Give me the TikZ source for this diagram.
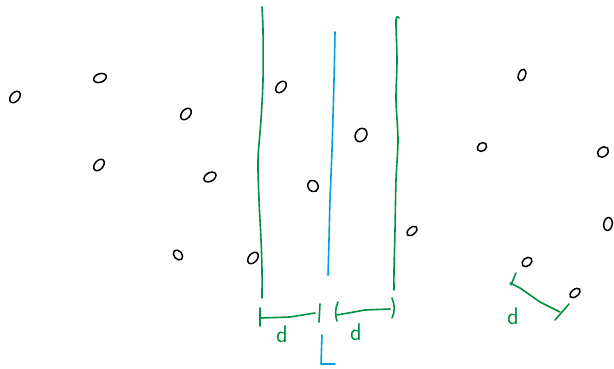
\documentclass[tikz,border=0pt]{standalone}
\usepackage{tikz}
\usetikzlibrary{shapes.geometric}
\definecolor{pgreen}{RGB}{0,146,64}
\definecolor{pblue}{RGB}{0,160,220}
\tikzset{
  pt/.style={draw=black, line width=1.5pt, ellipse, minimum width=13pt, minimum height=8.5pt, inner sep=0pt, rotate=50},
  gline/.style={draw=pgreen, line width=1.6pt, line cap=round, line join=round},
  bline/.style={draw=pblue, line width=1.6pt, line cap=round, line join=round},
  dlab/.style={text=pgreen, font=\sffamily\fontsize{24}{24}\selectfont, inner sep=0pt}
}
\begin{document}
\begin{tikzpicture}[x=1pt,y=-1pt]
\useasboundingbox (0,0) rectangle (614,369);
% points
\node[pt] (p1) at (15,97) {};
\node[pt, rotate=-30] (p2) at (100,78) {};
\node[pt] (p3) at (186,114) {};
\node[pt] (p4) at (99,165) {};
\node[pt, rotate=-20] (p5) at (210,177) {};
\node[pt, rotate=80, minimum width=11pt, minimum height=8pt] (p6) at (178,255) {};
\node[pt] (p7) at (253,258) {};
\node[pt] (p8) at (281,87) {};
\node[pt, rotate=10, minimum width=14pt, minimum height=11pt] (p9) at (361,135) {};
\node[pt, rotate=70, minimum width=12pt, minimum height=10pt] (p10) at (313,186) {};
\node[pt, rotate=-10, minimum width=12pt, minimum height=7pt] (p11) at (412,231) {};
\node[pt, rotate=20, minimum width=12pt, minimum height=7pt] (p12) at (522,75) {};
\node[pt, rotate=-10, minimum width=10pt, minimum height=8pt] (p13) at (482,147) {};
\node[pt, rotate=-10, minimum width=12pt, minimum height=9pt] (p14) at (603,152) {};
\node[pt, rotate=30] (p15) at (608,224) {};
\node[pt, rotate=-10, minimum width=11pt, minimum height=8pt] (p16) at (527,262) {};
\node[pt, rotate=-10, minimum width=12pt, minimum height=7pt] (p17) at (575,293) {};
% left green line
\draw[gline] plot[smooth] coordinates {(262,7) (263,30) (263,80) (261,120) (258,160) (259,200) (261,240) (262,270) (262,298)};
% blue line
\draw[bline] plot[smooth] coordinates {(335,32) (334,80) (332,150) (330,200) (329,240) (328,275)};
\draw[bline] (322,335) -- (321,364) -- (335,364);
% right green line
\draw[gline] plot[smooth] coordinates {(399,18) (396,20) (397,60) (396,100) (398,140) (396,180) (395,230) (394,270) (394,290)};
% brackets
\draw[gline] (260,308) -- (260,326);
\draw[gline] (260,318) -- (290,317) -- (315,313);
\draw[gline] (320,304) -- (319,322);
\draw[gline] (338,302) .. controls (335,308) and (335,316) .. (337,321);
\draw[gline] (337,315) -- (365,310) -- (390,309);
\draw[gline] (392,298) .. controls (395,305) and (395,312) .. (392,318);
\node[dlab] (d1) at (282,334) {d};
\node[dlab] (d2) at (356,332) {d};
% right-side distance
\draw[gline] (516,273) -- (511,285);
\draw[gline] (510,283) -- (520,288) -- (540,302) -- (560,312);
\draw[gline] (555,320) -- (569,304);
\node[dlab] (d3) at (513,316) {d};
\end{tikzpicture}
\end{document}
